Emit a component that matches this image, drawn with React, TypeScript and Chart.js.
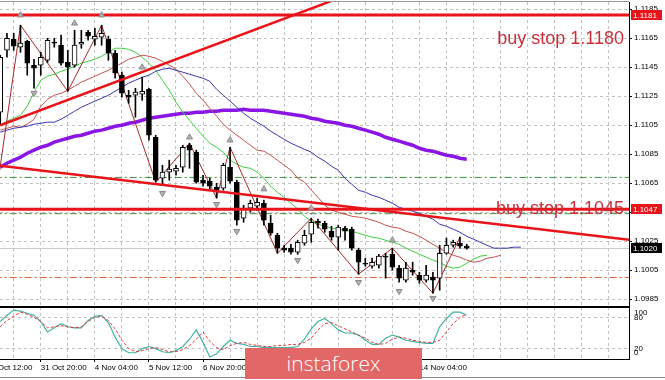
import React, { useEffect, useRef } from 'react';
import { Chart, registerables } from 'chart.js';

Chart.register(...registerables);

// ---- EURUSD H4 candles (index 0 = first visible bar) ----
const OPEN = [1.11140,1.11567,1.11643,1.11588,1.11629,1.11464,1.11464,1.11498,1.11622,1.11602,1.11484,1.11464,1.11609,1.11691,1.11643,1.11657,1.11643,1.11547,1.11395,1.11257,1.11257,1.11264,1.11298,1.10967,1.10684,1.10726,1.10733,1.10760,1.10912,1.10864,1.10671,1.10664,1.10622,1.10616,1.10760,1.10657,1.10409,1.10478,1.10491,1.10512,1.10374,1.10291,1.10202,1.10202,1.10174,1.10236,1.10298,1.10388,1.10374,1.10319,1.10278,1.10340,1.10333,1.10188,1.10098,1.10078,1.10084,1.10147,1.10160,1.10064,1.09981,1.10050,1.10016,1.09981,1.10002,1.09995,1.10167,1.10222,1.10236,1.10216];
const HIGH = [1.11533,1.11684,1.11684,1.11740,1.11636,1.11505,1.11553,1.11650,1.11650,1.11671,1.11567,1.11705,1.11705,1.11705,1.11719,1.11740,1.11664,1.11567,1.11416,1.11291,1.11305,1.11381,1.11305,1.10981,1.10774,1.10809,1.10774,1.10912,1.10926,1.10878,1.10705,1.10684,1.10650,1.10788,1.10898,1.10671,1.10498,1.10533,1.10547,1.10533,1.10429,1.10305,1.10222,1.10229,1.10257,1.10326,1.10409,1.10402,1.10388,1.10353,1.10360,1.10353,1.10347,1.10202,1.10133,1.10133,1.10160,1.10167,1.10202,1.10084,1.10105,1.10105,1.10036,1.10084,1.10036,1.10222,1.10271,1.10257,1.10278,1.10229];
const LOW = [1.11050,1.11519,1.11567,1.11553,1.11395,1.11305,1.11395,1.11484,1.11588,1.11464,1.11284,1.11450,1.11581,1.11636,1.11602,1.11602,1.11498,1.11374,1.11243,1.11202,1.11105,1.11222,1.10947,1.10657,1.10636,1.10671,1.10705,1.10726,1.10753,1.10650,1.10629,1.10602,1.10547,1.10602,1.10650,1.10360,1.10381,1.10450,1.10464,1.10360,1.10291,1.10167,1.10174,1.10160,1.10160,1.10222,1.10243,1.10340,1.10312,1.10257,1.10188,1.10257,1.10188,1.10022,1.10078,1.10064,1.10064,1.09995,1.10050,1.09967,1.09967,1.10016,1.09960,1.09967,1.09891,1.09912,1.10160,1.10209,1.10202,1.10195];
const CLOSE = [1.11519,1.11650,1.11595,1.11616,1.11478,1.11443,1.11519,1.11636,1.11616,1.11478,1.11450,1.11602,1.11622,1.11664,1.11664,1.11684,1.11547,1.11409,1.11271,1.11243,1.11278,1.11284,1.10981,1.10671,1.10726,1.10747,1.10753,1.10898,1.10878,1.10657,1.10650,1.10629,1.10602,1.10774,1.10664,1.10395,1.10478,1.10512,1.10519,1.10395,1.10305,1.10202,1.10188,1.10174,1.10243,1.10291,1.10381,1.10374,1.10333,1.10278,1.10347,1.10319,1.10202,1.10105,1.10091,1.10105,1.10147,1.10140,1.10071,1.09995,1.10064,1.10036,1.09981,1.10016,1.09981,1.10167,1.10222,1.10243,1.10216,1.10202];

// ---- Alligator (shifted), slow MA ----
const JAW = [1.11002,1.11016,1.11029,1.11036,1.11043,1.11057,1.11064,1.11071,1.11071,1.11091,1.11119,1.11147,1.11174,1.11195,1.11216,1.11236,1.11257,1.11284,1.11312,1.11340,1.11360,1.11381,1.11395,1.11422,1.11436,1.11443,1.11429,1.11416,1.11402,1.11388,1.11374,1.11353,1.11298,1.11257,1.11216,1.11174,1.11133,1.11098,1.11071,1.11043,1.11009,1.10981,1.10953,1.10926,1.10905,1.10884,1.10864,1.10829,1.10802,1.10767,1.10740,1.10684,1.10643,1.10602,1.10588,1.10567,1.10553,1.10533,1.10512,1.10484,1.10471,1.10457,1.10443,1.10422,1.10402,1.10367,1.10353,1.10333,1.10312,1.10284,1.10264,1.10243,1.10222,1.10202,1.10202,1.10202,1.10209,1.10209];
const TEETH = [1.11016,1.11029,1.11043,1.11036,1.11057,1.11091,1.11181,1.11229,1.11257,1.11271,1.11291,1.11319,1.11347,1.11367,1.11388,1.11409,1.11429,1.11457,1.11478,1.11505,1.11519,1.11533,1.11526,1.11512,1.11491,1.11464,1.11436,1.11388,1.11333,1.11271,1.11222,1.11167,1.11112,1.11057,1.11016,1.10981,1.10947,1.10912,1.10878,1.10871,1.10843,1.10809,1.10774,1.10740,1.10684,1.10657,1.10602,1.10553,1.10498,1.10464,1.10450,1.10436,1.10422,1.10416,1.10409,1.10395,1.10381,1.10360,1.10347,1.10340,1.10319,1.10305,1.10284,1.10257,1.10229,1.10202,1.10174,1.10153,1.10140,1.10119,1.10105,1.10112,1.10133,1.10140,1.10153];
const LIPS = [1.11050,1.11078,1.11098,1.11119,1.11181,1.11278,1.11360,1.11388,1.11402,1.11422,1.11436,1.11457,1.11478,1.11491,1.11505,1.11526,1.11553,1.11581,1.11581,1.11574,1.11553,1.11519,1.11478,1.11429,1.11360,1.11291,1.11209,1.11140,1.11084,1.11029,1.10974,1.10926,1.10898,1.10864,1.10809,1.10781,1.10760,1.10753,1.10726,1.10684,1.10629,1.10588,1.10553,1.10512,1.10471,1.10422,1.10388,1.10367,1.10353,1.10340,1.10333,1.10326,1.10319,1.10305,1.10291,1.10278,1.10271,1.10257,1.10243,1.10229,1.10202,1.10181,1.10160,1.10140,1.10119,1.10105,1.10078,1.10064,1.10071,1.10098,1.10126,1.10147,1.10153];
const MA_SLOW = [1.10760,1.10788,1.10809,1.10829,1.10857,1.10878,1.10898,1.10912,1.10933,1.10947,1.10960,1.10974,1.10981,1.10995,1.11009,1.11016,1.11029,1.11043,1.11050,1.11064,1.11071,1.11084,1.11098,1.11105,1.11112,1.11119,1.11126,1.11133,1.11133,1.11140,1.11140,1.11147,1.11147,1.11153,1.11153,1.11153,1.11160,1.11153,1.11153,1.11153,1.11147,1.11140,1.11133,1.11126,1.11119,1.11112,1.11098,1.11091,1.11078,1.11071,1.11064,1.11050,1.11043,1.11029,1.11016,1.11002,1.10988,1.10967,1.10953,1.10940,1.10926,1.10912,1.10891,1.10878,1.10871,1.10857,1.10843,1.10836,1.10822,1.10816];

// ---- ZigZag vertices and fractals ----
const ZIGZAG_X = [-1, 3, 10, 15, 23, 28, 32, 34, 41, 46, 53, 58, 64, 68];
const ZIGZAG_Y = [1.10440, 1.11740, 1.11284, 1.11740, 1.10657, 1.10926, 1.10547, 1.10898, 1.10167, 1.10409, 1.10022, 1.10202, 1.09891, 1.10278];
const FRACTAL_UP_X = [3, 11, 15, 21, 28, 34, 39, 46, 58];
const FRACTAL_UP_Y = [1.11809, 1.11753, 1.11809, 1.11450, 1.10967, 1.10947, 1.10609, 1.10478, 1.10257];
const FRACTAL_DN_X = [5, 24, 32, 35, 44, 53, 59, 64];
const FRACTAL_DN_Y = [1.11271, 1.10581, 1.10505, 1.10319, 1.10119, 1.09967, 1.09905, 1.09857];

// ---- Drawn objects ----
const BUY_STOP_HIGH = 1.1181;
const BUY_STOP_LOW = 1.1047;
const GREEN_LEVEL_1 = 1.1069;
const GREEN_LEVEL_2 = 1.1044;
const ORANGE_LEVEL = 1.1000;
const BID = 1.1020;
const TREND_UP_X = [0, 60];
const TREND_UP_Y = [1.1105, 1.1210];
const TREND_DOWN_X = [0, 93];
const TREND_DOWN_Y = [1.1077, 1.1026];
const NOTE_TEXT = ['buy stop 1.1180', 'buy stop 1.1045'];
const NOTE_PRICE = [1.1161, 1.1044];

// ---- Stochastic ----
const STOCH_MAIN = [72,84,94,92,88,84,72,52,60,68,62,60,60,74,82,84,70,42,20,12,12,20,24,20,14,12,16,24,38,56,32,4,10,24,36,30,28,24,24,22,22,22,22,22,24,38,58,72,78,68,56,50,50,46,36,28,28,40,46,42,36,34,32,30,30,62,78,90,90,84];
const STOCH_SIGNAL = [62,74,82,90,86,80,72,60,62,64,62,60,62,72,80,82,74,58,36,20,14,16,20,22,18,14,14,18,26,38,52,34,22,18,26,30,32,28,26,24,24,26,26,28,28,32,40,56,68,70,64,58,52,46,40,32,28,30,38,42,40,36,34,32,32,36,52,68,80,86];
const STOCH_LEVELS = [20, 80];
const STOCH_EDGE_LABELS = ['100', '0'];

// ---- Axes ----
const PRICE_TICKS = [1.0985, 1.1005, 1.1025, 1.1045, 1.1065, 1.1085, 1.1105, 1.1125, 1.1145, 1.1165, 1.1185];
const TIME_TICK_INDEX = [-2, 6, 14, 22, 30, 38, 46, 54, 62];
const TIME_LABELS = ['30 Oct 12:00', '31 Oct 20:00', '4 Nov 04:00', '5 Nov 12:00', '6 Nov 20:00', '8 Nov 04:00', '11 Nov 12:00', '12 Nov 20:00', '14 Nov 04:00'];
const GRID_INDEX = Array.from({ length: 23 }, (_, k) => 2 + 4 * k);

const X_MIN = -0.03;
const X_MAX = 93;
const Y_MIN = 1.0981;
const Y_MAX = 1.119;
const AXIS_W = 36;
const GRID_COLOR = '#c2c2c2';
const FONT = '"Liberation Sans", Arial, sans-serif';
const LINE_RED = '#e8141a';

const pts = (xs: number[], ys: number[]) => xs.map((x, i) => ({ x, y: ys[i] }));
const series = (vals: number[]) => vals.map((y, i) => ({ x: i, y }));
const level = (v: number) => [{ x: X_MIN - 3, y: v }, { x: X_MAX + 3, y: v }];

const mainDecor = {
  id: 'mainDecor',
  afterDraw(chart: any) {
    const { ctx, chartArea: a, scales } = chart;
    const y = scales.y;
    ctx.save();
    ctx.fillStyle = '#9a9a9a';
    ctx.fillRect(0, a.top - 1, a.right, 1);
    ctx.font = '18px ' + FONT;
    ctx.fillStyle = '#c9303a';
    ctx.textAlign = 'right';
    ctx.textBaseline = 'alphabetic';
    NOTE_TEXT.forEach((t, k) => ctx.fillText(t, a.right - 5, y.getPixelForValue(NOTE_PRICE[k])));
    const tags = [
      { v: BUY_STOP_HIGH, bg: LINE_RED },
      { v: BUY_STOP_LOW, bg: LINE_RED },
      { v: BID, bg: '#000000' },
    ];
    ctx.font = '8px ' + FONT;
    ctx.textAlign = 'left';
    ctx.textBaseline = 'middle';
    tags.forEach((t) => {
      const py = Math.round(y.getPixelForValue(t.v));
      ctx.fillStyle = t.bg;
      ctx.fillRect(a.right + 2, py - 5, 31, 10);
      ctx.fillStyle = '#ffffff';
      ctx.fillText(t.v.toFixed(4), a.right + 4, py + 0.5);
    });
    ctx.restore();
  },
};

const subDecor = {
  id: 'subDecor',
  afterDraw(chart: any) {
    const { ctx, chartArea: a, width } = chart;
    ctx.save();
    ctx.fillStyle = '#000000';
    ctx.fillRect(0, a.top - 1, a.right + 1, 2);
    ctx.fillRect(0, a.bottom, a.right + 1, 1);
    ctx.fillStyle = '#8a8a8a';
    ctx.fillRect(0, chart.height - 3, width, 1);
    ctx.fillStyle = '#000000';
    ctx.font = '8px ' + FONT;
    ctx.textAlign = 'left';
    ctx.textBaseline = 'middle';
    ctx.fillText(STOCH_EDGE_LABELS[0], a.right + 5, a.top + 6);
    ctx.fillText(STOCH_EDGE_LABELS[1], a.right + 5, a.bottom - 6);
    ctx.restore();
  },
};

function buildMain(canvas: HTMLCanvasElement) {
  const idx = OPEN.map((_, i) => i);
  const lineBase = { type: 'line', pointRadius: 0, borderWidth: 1, tension: 0, fill: false, clip: 0 };
  const dashDot = [7, 3, 2, 3];
  return new Chart(canvas, {
    type: 'line',
    data: {
      datasets: [
        { ...lineBase, data: level(GREEN_LEVEL_1), borderColor: '#3f8f3f', borderDash: dashDot, order: 100 },
        { ...lineBase, data: level(GREEN_LEVEL_2), borderColor: '#3f8f3f', borderDash: dashDot, order: 100 },
        { ...lineBase, data: level(ORANGE_LEVEL), borderColor: '#e0622c', borderDash: dashDot, order: 100 },
        { ...lineBase, data: level(BID), borderColor: '#c8c8c8', order: 99 },
        { ...lineBase, data: series(MA_SLOW), borderColor: '#8a16e6', borderWidth: 3.5, order: 90 },
        { ...lineBase, data: series(JAW), borderColor: '#3838b0', order: 80 },
        { ...lineBase, data: series(TEETH), borderColor: '#cc5050', order: 80 },
        { ...lineBase, data: series(LIPS), borderColor: '#3cd03c', order: 80 },
        { ...lineBase, data: pts(ZIGZAG_X, ZIGZAG_Y), borderColor: '#a82a2a', order: 70 },
        {
          type: 'bar', data: idx.map((i) => ({ x: i, y: [LOW[i], HIGH[i]] })),
          backgroundColor: '#000000', borderWidth: 0, barThickness: 1, grouped: false, order: 60,
        },
        {
          type: 'bar', data: idx.map((i) => ({ x: i, y: [OPEN[i], CLOSE[i]] })),
          backgroundColor: idx.map((i) => (CLOSE[i] > OPEN[i] ? '#ffffff' : '#000000')),
          borderColor: '#000000', borderWidth: 1, borderSkipped: false, barThickness: 5,
          minBarLength: 1, grouped: false, order: 50,
        },
        { ...lineBase, data: pts(TREND_UP_X, TREND_UP_Y), borderColor: LINE_RED, borderWidth: 2.5, order: 40 },
        { ...lineBase, data: pts(TREND_DOWN_X, TREND_DOWN_Y), borderColor: LINE_RED, borderWidth: 2.5, order: 40 },
        { ...lineBase, data: level(BUY_STOP_HIGH), borderColor: LINE_RED, borderWidth: 3, order: 30 },
        { ...lineBase, data: level(BUY_STOP_LOW), borderColor: LINE_RED, borderWidth: 3, order: 30 },
        {
          type: 'line', showLine: false, data: pts(FRACTAL_UP_X, FRACTAL_UP_Y), pointStyle: 'triangle',
          pointRadius: 3.5, pointBackgroundColor: '#b0b0b0', pointBorderColor: '#8c8c8c', pointBorderWidth: 1, order: 20,
        },
        {
          type: 'line', showLine: false, data: pts(FRACTAL_DN_X, FRACTAL_DN_Y), pointStyle: 'triangle', pointRotation: 180,
          pointRadius: 3.5, pointBackgroundColor: '#b0b0b0', pointBorderColor: '#8c8c8c', pointBorderWidth: 1, order: 20,
        },
      ] as any,
    },
    options: {
      responsive: false,
      animation: false,
      events: [],
      layout: { padding: { top: 2, bottom: 1, left: 0, right: 0 }, autoPadding: false },
      plugins: { legend: { display: false }, tooltip: { enabled: false } },
      scales: {
        x: {
          type: 'linear', min: X_MIN, max: X_MAX, offset: false, bounds: 'data',
          afterBuildTicks: (s: any) => { s.ticks = GRID_INDEX.map((value) => ({ value })); },
          afterFit: (s: any) => { s.height = 0; s.paddingLeft = 0; s.paddingRight = 0; },
          ticks: { display: false, autoSkip: false },
          grid: { color: GRID_COLOR, drawTicks: false, offset: false },
          border: { display: false, dash: [3, 3] },
        },
        y: {
          type: 'linear', position: 'right', min: Y_MIN, max: Y_MAX, bounds: 'data',
          afterBuildTicks: (s: any) => { s.ticks = PRICE_TICKS.map((value) => ({ value })); },
          afterFit: (s: any) => { s.width = AXIS_W; s.paddingTop = 0; s.paddingBottom = 0; },
          ticks: {
            autoSkip: false, color: '#000000', padding: 2, font: { family: FONT, size: 8 },
            callback: (v: any) => Number(v).toFixed(4),
          },
          grid: { color: GRID_COLOR, tickLength: 3, tickColor: '#000000' },
          border: { display: true, color: '#000000', dash: [3, 3] },
        },
      },
    } as any,
    plugins: [mainDecor],
  });
}

function buildSub(canvas: HTMLCanvasElement) {
  const xTicks = Array.from(new Set([...TIME_TICK_INDEX, ...GRID_INDEX])).sort((a, b) => a - b);
  return new Chart(canvas, {
    type: 'line',
    data: {
      datasets: [
        { data: series(STOCH_MAIN), borderColor: '#3fb4a4', borderWidth: 1.2, pointRadius: 0, tension: 0, order: 2 },
        { data: series(STOCH_SIGNAL), borderColor: '#e03a3a', borderWidth: 1, borderDash: [3, 2], pointRadius: 0, tension: 0, order: 1 },
      ] as any,
    },
    options: {
      responsive: false,
      animation: false,
      events: [],
      layout: { padding: { top: 10, bottom: 0, left: 0, right: 0 }, autoPadding: false },
      plugins: { legend: { display: false }, tooltip: { enabled: false } },
      scales: {
        x: {
          type: 'linear', min: X_MIN, max: X_MAX, offset: false, bounds: 'data',
          afterBuildTicks: (s: any) => { s.ticks = xTicks.map((value) => ({ value })); },
          afterFit: (s: any) => { s.height = 21; s.paddingLeft = 0; s.paddingRight = 0; },
          ticks: {
            autoSkip: false, maxRotation: 0, minRotation: 0, align: 'start', padding: 1,
            color: '#000000', font: { family: FONT, size: 8 },
            callback: (v: any) => {
              const k = TIME_TICK_INDEX.indexOf(Number(v));
              return k >= 0 ? TIME_LABELS[k] : '';
            },
          },
          grid: {
            color: (c: any) => (c.tick && c.tick.value < 0 ? 'rgba(0,0,0,0)' : GRID_COLOR),
            tickLength: 3,
            tickColor: (c: any) => (c.tick && TIME_TICK_INDEX.includes(c.tick.value) ? '#000000' : 'rgba(0,0,0,0)'),
            offset: false,
          },
          border: { display: false, dash: [3, 3] },
        },
        y: {
          type: 'linear', position: 'right', min: 0, max: 100, bounds: 'data',
          afterBuildTicks: (s: any) => { s.ticks = STOCH_LEVELS.map((value) => ({ value })); },
          afterFit: (s: any) => { s.width = AXIS_W; s.paddingTop = 0; s.paddingBottom = 0; },
          ticks: { autoSkip: false, color: '#000000', padding: 5, font: { family: FONT, size: 8 } },
          grid: { color: GRID_COLOR, drawTicks: false },
          border: { display: true, color: '#000000', dash: [3, 3] },
        },
      },
    } as any,
    plugins: [subDecor],
  });
}

export default function App() {
  const mainRef = useRef<HTMLCanvasElement | null>(null);
  const subRef = useRef<HTMLCanvasElement | null>(null);

  useEffect(() => {
    const c1 = buildMain(mainRef.current as HTMLCanvasElement);
    const c2 = buildSub(subRef.current as HTMLCanvasElement);
    return () => { c1.destroy(); c2.destroy(); };
  }, []);

  return (
    <div style={{ position: 'fixed', left: 0, top: 0, width: 665, height: 380, background: '#ffffff', overflow: 'hidden' }}>
      <canvas ref={mainRef} width={665} height={306} style={{ position: 'absolute', left: 0, top: 0, display: 'block' }} />
      <canvas ref={subRef} width={665} height={83} style={{ position: 'absolute', left: 0, top: 297, display: 'block' }} />
      <div
        style={{
          position: 'absolute', left: 245, top: 348, width: 177, height: 31,
          background: '#e26868', color: '#ffffff',
          fontFamily: '"Open Sans", sans-serif', fontWeight: 300, fontSize: 21,
          display: 'flex', alignItems: 'center', justifyContent: 'center', lineHeight: '31px',
        }}
      >
        instaforex
      </div>
    </div>
  );
}
